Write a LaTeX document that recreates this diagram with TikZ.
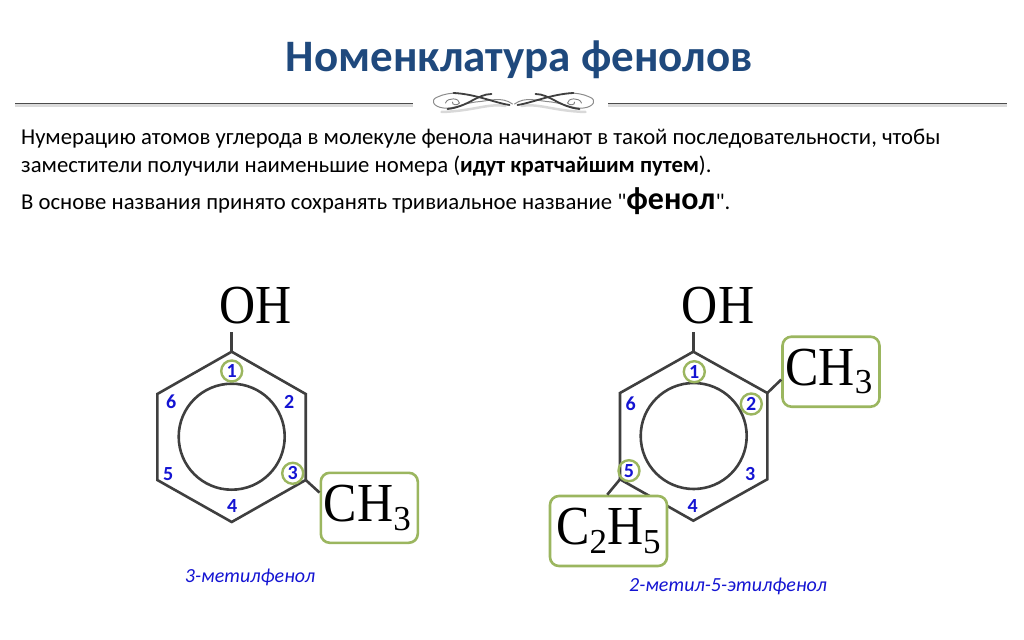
\documentclass[tikz,border=0pt]{standalone}
\usepackage{fontspec}
\setmainfont{Carlito}[Ligatures=TeXOff]
\newfontfamily\formulafont{Liberation Serif}
\usetikzlibrary{positioning}
\definecolor{titleblue}{HTML}{1F497D}
\definecolor{boxgreen}{HTML}{9BB65F}
\definecolor{bondgray}{HTML}{3F3F3F}
\definecolor{numblue}{HTML}{1414D2}
\newcommand{\subnum}[1]{\raisebox{-8.5pt}{\fontsize{35}{35}\selectfont #1}}
\newcommand{\tallform}[1]{\scalebox{1}[1.1]{#1}}
\tikzset{
    bond/.style={draw=bondgray, line width=2.6pt},
    ringcircle/.style={circle, draw=bondgray, line width=2.6pt, minimum size=106pt, inner sep=0pt},
    numlabel/.style={text=numblue, font=\fontsize{20}{20}\selectfont\bfseries, inner sep=0pt},
    numring/.style={numlabel, circle, draw=boxgreen, line width=2.4pt, minimum size=21pt},
    formula/.style={font=\formulafont\fontsize{50}{50}\selectfont, inner sep=0pt},
    groupbox/.style={formula, draw=boxgreen, fill=white, line width=2.6pt, rounded corners=9pt,
        minimum height=70pt, align=center},
    bodytext/.style={anchor=base west, inner sep=0pt, font=\fontsize{22.7}{26}\selectfont},
    caption/.style={text=numblue, inner sep=0pt, font=\fontsize{20}{20}\selectfont\itshape},
    rulemain/.style={draw=black!70, line width=.9pt},
    ruleshade/.style={draw=black!14, line width=3pt},
    curl/.style={draw=bondgray, line width=1pt, line cap=round},
    curlshade/.style={draw=black!15, line width=2.5pt, line cap=round},
}
\begin{document}
\begin{tikzpicture}[x=1pt, y=-1pt]
    \useasboundingbox (0,0) rectangle (1024,639);

    % heading
    \node[anchor=base, inner sep=0pt, text=titleblue, font=\fontsize{45}{45}\selectfont\bfseries] (heading) at (519.5,72) {Номенклатура фенолов};
    \coordinate (ruleA) at (15,103);
    \coordinate (ruleB) at (413,103);
    \coordinate (ruleC) at (608,103);
    \coordinate (ruleD) at (1007,103);
    \draw[ruleshade] ([yshift=-2.5pt]ruleA) -- ([yshift=-2.5pt]ruleB);
    \draw[ruleshade] ([yshift=-2.5pt]ruleC) -- ([yshift=-2.5pt]ruleD);
    \draw[rulemain] (ruleA) -- (ruleB);
    \draw[rulemain] (ruleC) -- (ruleD);
    \foreach \flip in {1,-1} {
        \begin{scope}[shift={(513.5,103)}, xscale=\flip]
            \draw[curlshade] (-8,3) .. controls (-25,0) and (-40,8) .. (-72,9);
            \draw[curl, draw=black!45] (-1,1) .. controls (-12,-7) and (-24,-2) .. (-38,-1)
                .. controls (-52,1) and (-60,6) .. (-70,5)
                .. controls (-80,4) and (-84,-3) .. (-76,-6)
                .. controls (-70,-9) and (-62,-10) .. (-56,-10);
            \draw[curl, line width=1.8pt] (-4,2) .. controls (-18,0) and (-38,-9) .. (-60,-10);
            \draw[curl, line width=1.8pt] (-22,-9) .. controls (-36,-9) and (-46,4) .. (-66,6);
            \draw[curl, draw=black!50, line width=.9pt] (-68,0) .. controls (-66,-6) and (-54,-5) .. (-54,0)
                .. controls (-56,3) and (-62,2) .. (-61,-1);
        \end{scope}
    }

    % explanation
    \node[bodytext] (lineA) at (21,145) {Нумерацию атомов углерода в молекуле фенола начинают в такой последовательности, чтобы};
    \node[bodytext] (lineB) at (21,172) {заместители получили наименьшие номера (\textbf{идут кратчайшим путем}).};
    \node[bodytext] (lineC) at (21,209) {В основе названия принято сохранять тривиальное название "{\fontsize{32}{32}\selectfont\bfseries фенол}".};

    % left molecule
    \coordinate (a1) at (231.7,351.7);
    \coordinate (a2) at (305.7,394);
    \coordinate (a3) at (305.7,480);
    \coordinate (a4) at (231.7,522);
    \coordinate (a5) at (157.3,480);
    \coordinate (a6) at (157.3,394);
    \draw[bond] (a1) -- (a2) -- (a3) -- (a4) -- (a5) -- (a6) -- cycle;
    \node[ringcircle] (ringA) at (231.7,436.7) {};
    \node[formula] (ohA) at (256,306) {\tallform{OH}};
    \coordinate (ohAend) at (231.7,332);
    \draw[bond] (a1) -- (ohAend);
    \node[groupbox, minimum width=97pt] (methylA) at (369.3,507.8) {\tallform{CH}\subnum{3}\hspace{4pt}};
    \draw[bond] (a3) -- (methylA.163);
    \node[numring] (numA1) at (231.7,371) {1};
    \node[numlabel] (numA2) at (289.3,401.7) {2};
    \node[numring] (numA3) at (292.7,473.3) {3};
    \node[numlabel] (numA4) at (232.3,506) {4};
    \node[numlabel] (numA5) at (168.3,474) {5};
    \node[numlabel] (numA6) at (171.3,401.7) {6};
    \node[caption] (nameA) at (250,577.7) {3-метилфенол};

    % right molecule
    \coordinate (b1) at (693.3,351.7);
    \coordinate (b2) at (767.3,393);
    \coordinate (b3) at (767.3,479.3);
    \coordinate (b4) at (693.3,520.7);
    \coordinate (b5) at (620,479.3);
    \coordinate (b6) at (620,393);
    \draw[bond] (b1) -- (b2) -- (b3) -- (b4) -- (b5) -- (b6) -- cycle;
    \node[ringcircle] (ringB) at (693.7,436) {};
    \node[formula] (ohB) at (718,306) {\tallform{OH}};
    \coordinate (ohBend) at (693.3,332);
    \draw[bond] (b1) -- (ohBend);
    \node[groupbox, minimum width=97pt] (methylB) at (831,371.7) {\tallform{CH}\subnum{3}\hspace{4pt}};
    \draw[bond] (b2) -- (methylB.189);
    \node[groupbox, minimum width=117pt] (ethylB) at (608.5,531) {\tallform{C}\subnum{2}\tallform{H}\subnum{5}};
    \draw[bond] (b5) -- (ethylB.92);
    \node[numring] (numB1) at (694.3,371.7) {1};
    \node[numring] (numB2) at (751.3,404) {2};
    \node[numlabel] (numB3) at (750.3,474) {3};
    \node[numlabel] (numB4) at (692.7,506) {4};
    \node[numring] (numB5) at (629,470.7) {5};
    \node[numlabel] (numB6) at (630.7,404) {6};
    \node[caption] (nameB) at (728,586.7) {2-метил-5-этилфенол};
\end{tikzpicture}
\end{document}
